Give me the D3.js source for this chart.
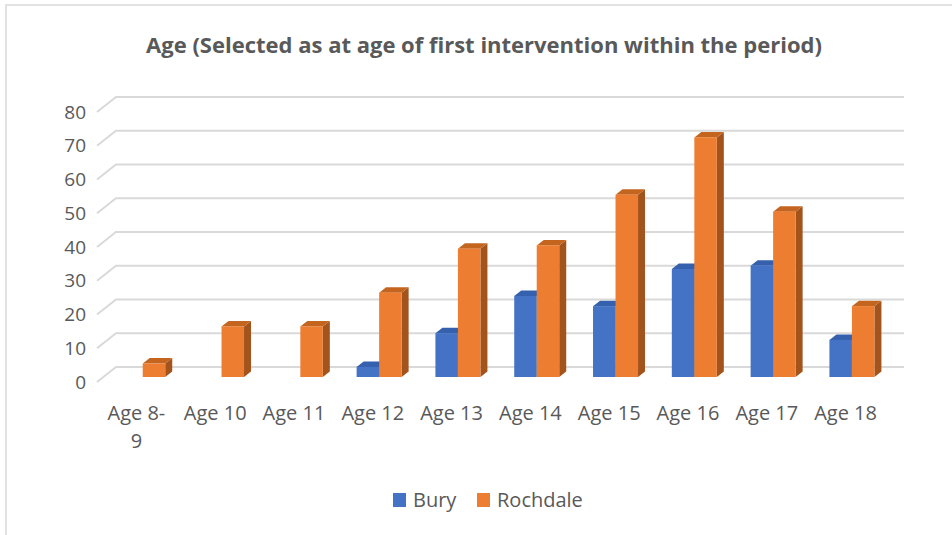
<!DOCTYPE html>
<html>
<head>
<meta charset="utf-8">
<script src="https://d3js.org/d3.v7.min.js"></script>
<style>
  body { margin: 0; background: #fff; }
  text { font-family: "Open Sans", sans-serif; fill: #595959; }
</style>
</head>
<body>
<div id="chart"></div>
<script>
// data
var categories = ["Age 8-9", "Age 10", "Age 11", "Age 12", "Age 13", "Age 14", "Age 15", "Age 16", "Age 17", "Age 18"];
var bury = [0, 0, 0, 3, 13, 24, 21, 32, 33, 11];
var rochdale = [4, 15, 15, 25, 38, 39, 54, 71, 49, 21];
var yTicks = [0, 10, 20, 30, 40, 50, 60, 70, 80];
var seriesNames = ["Bury", "Rochdale"];

var W = 952, H = 535;
var svg = d3.select("#chart").append("svg")
  .attr("width", W)
  .attr("height", H);

// chart border (only top and left edges show in the picture)
svg.append("path")
  .attr("d", "M6,535 L6,5 L952,5")
  .attr("fill", "none")
  .attr("stroke", "#d9d9d9")
  .attr("stroke-width", 1.5);

// title
svg.append("text")
  .attr("x", 484)
  .attr("y", 53)
  .attr("text-anchor", "middle")
  .style("font-size", "22px")
  .style("font-weight", "bold")
  .text("Age (Selected as at age of first intervention within the period)");

// 3d frame: front plane and back wall offset
var depthX = 19, depthY = -15;
var x = d3.scaleBand().domain(categories).range([97, 885]);
var y = d3.scaleLinear().domain([0, 80]).range([382, 112]); // front plane

// gridlines: diagonal on the left side wall + line along the back wall
var grid = svg.append("g");
yTicks.forEach(function (t) {
  var yy = y(t);
  grid.append("path")
    .attr("d", "M" + x.range()[0] + "," + yy +
      " L" + (x.range()[0] + depthX) + "," + (yy + depthY) +
      " L" + (x.range()[1] + depthX) + "," + (yy + depthY))
    .attr("fill", "none")
    .attr("stroke", "#d9d9d9")
    .attr("stroke-width", 2);
});

// y tick labels
svg.append("g").selectAll("text")
  .data(yTicks)
  .enter()
  .append("text")
  .attr("x", 86)
  .attr("y", function (d) { return y(d); })
  .attr("dy", "0.35em")
  .attr("text-anchor", "end")
  .style("font-size", "19px")
  .text(function (d) { return d; });

// category labels (wrap after hyphen)
var xl = svg.append("g");
categories.forEach(function (c) {
  var lines = c.indexOf("-") > -1 ? [c.slice(0, c.indexOf("-") + 1), c.slice(c.indexOf("-") + 1)] : [c];
  var t = xl.append("text")
    .attr("x", x(c) + x.bandwidth() / 2)
    .attr("y", 420)
    .attr("text-anchor", "middle")
    .style("font-size", "20px");
  lines.forEach(function (l, i) {
    t.append("tspan")
      .attr("x", x(c) + x.bandwidth() / 2)
      .attr("dy", i == 0 ? 0 : 28)
      .text(l);
  });
});

// bars: front face sits a third of the way into the depth
var barDepth = 0.333;
var offX = depthX * barDepth, offY = depthY * barDepth;
var sideX = 7, sideY = -5.5;
var barW = 22.5;
var colors = [
  { front: "#4472c4", top: "#3560ad", side: "#2f5597" },
  { front: "#ed7d31", top: "#c4651f", side: "#a3531c" }
];

var bars = svg.append("g");
categories.forEach(function (c, i) {
  [bury[i], rochdale[i]].forEach(function (v, s) {
    if (v <= 0) return;
    var cx = x(c) + x.bandwidth() / 2 + offX;
    var x0 = cx - barW + s * barW;
    var x1 = x0 + barW;
    var yb = y(0) + offY;
    var yt = y(v) + offY;
    var col = colors[s];
    // side
    bars.append("path")
      .attr("d", "M" + x1 + "," + yb + " L" + (x1 + sideX) + "," + (yb + sideY) +
        " L" + (x1 + sideX) + "," + (yt + sideY) + " L" + x1 + "," + yt + "Z")
      .attr("fill", col.side);
    // top
    bars.append("path")
      .attr("d", "M" + x0 + "," + yt + " L" + (x0 + sideX) + "," + (yt + sideY) +
        " L" + (x1 + sideX) + "," + (yt + sideY) + " L" + x1 + "," + yt + "Z")
      .attr("fill", col.top);
    // front
    bars.append("rect")
      .attr("x", x0)
      .attr("y", yt)
      .attr("width", barW)
      .attr("height", yb - yt)
      .attr("fill", col.front);
  });
});

// legend
var legend = svg.append("g");
var lx = [393, 477];
seriesNames.forEach(function (n, i) {
  legend.append("rect")
    .attr("x", lx[i])
    .attr("y", 493)
    .attr("width", 13)
    .attr("height", 14)
    .attr("fill", colors[i].front);
  legend.append("text")
    .attr("x", lx[i] + 20)
    .attr("y", 507)
    .style("font-size", "20px")
    .text(n);
});
</script>
</body>
</html>
